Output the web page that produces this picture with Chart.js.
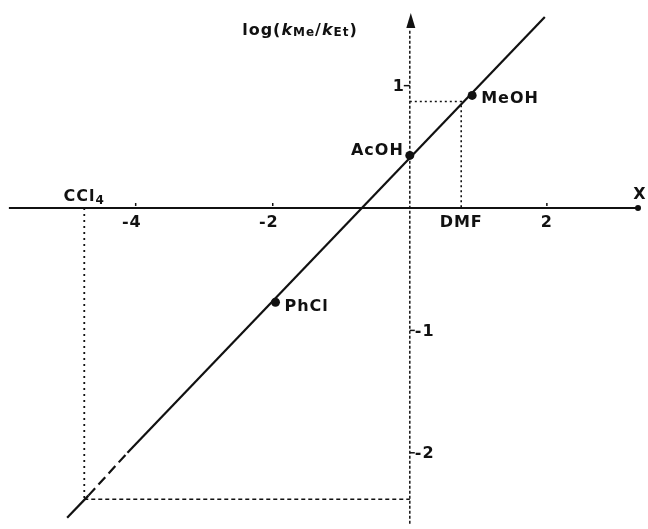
<!DOCTYPE html>
<html>
<head>
<meta charset="utf-8">
<script src="https://cdn.jsdelivr.net/npm/chart.js@4.4.1/dist/chart.umd.min.js"></script>
<style>
  html, body { margin: 0; padding: 0; background: #fff; }
  #wrap { width: 648px; height: 529px; position: relative; }
</style>
</head>
<body>
<div id="wrap"><canvas id="plot"></canvas></div>
<script>
// Solvents: log(kMe/kEt) against the solvent parameter X
const solvents = ['AcOH', 'MeOH', 'PhCl', 'DMF', 'CCl4'];
const solventX = [0, 0.91, -1.96, 0.75, -4.75];
const solventY = [0.43, 0.92, -0.77, 0.87, -2.38];
const marked   = [true, true, true, false, false];

// correlation line (the short stretch near the bottom is broken)
const fitX = [-5.0, -4.69, -4.12, 1.97];
const fitY = [-2.53, -2.35, -2.0, 1.56];

const xTicks = [-4, -2, 2];
const yTicks = [1, -1, -2];

const INK  = '#111';
const FONT = '"DejaVu Sans", sans-serif';

const pts = (xs, ys) => xs.map((v, i) => ({ x: v, y: ys[i] }));
const idx = name => solvents.indexOf(name);

const dots = solvents
  .map((s, i) => ({ x: solventX[i], y: solventY[i], s }))
  .filter((p, i) => marked[i]);

// dotted drop lines for the unmarked solvents
const dmf  = idx('DMF');
const ccl4 = idx('CCl4');
const dmfGuide = [
  { x: 0, y: solventY[dmf] },
  { x: solventX[dmf], y: solventY[dmf] },
  { x: solventX[dmf], y: 0 }
];
const cclDown = [{ x: solventX[ccl4], y: 0 }, { x: solventX[ccl4], y: solventY[ccl4] }];
const cclAcross = [{ x: solventX[ccl4], y: solventY[ccl4] }, { x: 0, y: solventY[ccl4] }];

const lineSet = (data, extra) => Object.assign({
  data, showLine: true, pointRadius: 0, borderColor: INK,
  borderWidth: 1.6, fill: false, tension: 0
}, extra);

// text made of runs so subscripts and italics can sit inline
function drawRuns(ctx, runs, x, y, align) {
  let w = 0;
  runs.forEach(r => { ctx.font = r.font; w += ctx.measureText(r.t).width; });
  let cx = align === 'center' ? x - w / 2 : align === 'right' ? x - w : x;
  ctx.textAlign = 'left';
  runs.forEach(r => {
    ctx.font = r.font;
    ctx.fillText(r.t, cx, y + (r.dy || 0));
    cx += ctx.measureText(r.t).width;
  });
}

const annotate = {
  id: 'annotate',
  afterDatasetsDraw(chart) {
    const { ctx, scales: { x, y } } = chart;
    const X = v => x.getPixelForValue(v);
    const Y = v => y.getPixelForValue(v);
    const big = 'bold 16px ' + FONT;
    const sub = 'bold 12px ' + FONT;
    const ital = 'italic bold 16px ' + FONT;
    const y0 = Y(0), x0 = X(0);

    ctx.save();
    ctx.fillStyle = INK;
    ctx.strokeStyle = INK;
    ctx.textBaseline = 'middle';
    ctx.letterSpacing = '1px';

    // arrow head of the vertical axis
    ctx.beginPath();
    ctx.moveTo(x0 + 1, 13);
    ctx.lineTo(x0 - 3.5, 28);
    ctx.lineTo(x0 + 5.5, 28);
    ctx.closePath();
    ctx.fill();

    // end dot of the X axis
    ctx.beginPath();
    ctx.arc(X(3.33), y0, 3, 0, Math.PI * 2);
    ctx.fill();

    // x ticks and labels
    ctx.lineWidth = 1.5;
    xTicks.forEach(t => {
      ctx.beginPath();
      ctx.moveTo(X(t), y0 - 5);
      ctx.lineTo(X(t), y0 - 2);
      ctx.stroke();
      ctx.font = big;
      ctx.textAlign = 'right';
      ctx.fillText(String(t), X(t) + 6, y0 + 15);
    });

    // y ticks and labels
    yTicks.forEach(t => {
      ctx.beginPath();
      if (t > 0) {
        ctx.moveTo(x0 - 6, Y(t)); ctx.lineTo(x0, Y(t));
        ctx.stroke();
        ctx.font = big; ctx.textAlign = 'right';
        ctx.fillText(String(t), x0 - 5, Y(t) + 1);
      } else {
        ctx.moveTo(x0, Y(t)); ctx.lineTo(x0 + 5, Y(t));
        ctx.stroke();
        ctx.font = big; ctx.textAlign = 'left';
        ctx.fillText(String(t), x0 + 5, Y(t) + 1);
      }
    });

    // axis titles
    ctx.font = big; ctx.textAlign = 'center';
    ctx.fillText('X', 640, y0 - 13);
    drawRuns(ctx, [
      { t: 'log(', font: big },
      { t: 'k', font: ital },
      { t: 'Me', font: sub, dy: 2 },
      { t: '/', font: big },
      { t: 'k', font: ital },
      { t: 'Et', font: sub, dy: 2 },
      { t: ')', font: big }
    ], 300, 31, 'center');

    // solvent names
    ctx.font = big;
    ctx.textAlign = 'right';
    ctx.fillText('AcOH', X(solventX[idx('AcOH')]) - 6, Y(solventY[idx('AcOH')]) - 5);
    ctx.textAlign = 'left';
    ctx.fillText('MeOH', X(solventX[idx('MeOH')]) + 9, Y(solventY[idx('MeOH')]) + 3);
    ctx.fillText('PhCl', X(solventX[idx('PhCl')]) + 9, Y(solventY[idx('PhCl')]) + 5);
    ctx.textAlign = 'center';
    ctx.fillText('DMF', X(solventX[dmf]), y0 + 15);
    drawRuns(ctx, [
      { t: 'CCl', font: big },
      { t: '4', font: sub, dy: 4 }
    ], X(solventX[ccl4]), y0 - 11, 'center');

    ctx.restore();
  }
};

new Chart(document.getElementById('plot'), {
  type: 'scatter',
  data: {
    datasets: [
      {
        data: dots, pointRadius: 4.5, pointHoverRadius: 4.5,
        backgroundColor: INK, borderColor: INK, pointBorderWidth: 0
      },
      lineSet(pts(fitX, fitY), {
        borderWidth: 2.2,
        segment: { borderDash: c => c.p0DataIndex === 1 ? [10, 5] : undefined }
      }),
      lineSet(dmfGuide, { borderDash: [2, 3], borderWidth: 1.6 }),
      lineSet(cclDown, { borderDash: [2, 4], borderWidth: 1.8 }),
      lineSet(cclAcross, { borderDash: [4, 3], borderWidth: 1.4 }),
      // vertical axis, dashed, and the solid X axis
      lineSet([{ x: 0, y: -2.62 }, { x: 0, y: 1.45 }], { borderDash: [3, 2], borderWidth: 1.5 }),
      lineSet([{ x: -5.85, y: 0 }, { x: 3.33, y: 0 }], { borderWidth: 1.8 })
    ]
  },
  options: {
    responsive: true,
    maintainAspectRatio: false,
    animation: false,
    layout: { padding: 0 },
    plugins: { legend: { display: false }, tooltip: { enabled: false } },
    scales: {
      x: { type: 'linear', display: false, min: -5.914, max: 3.41 },
      y: { type: 'linear', display: false, min: -2.586, max: 1.663 }
    }
  },
  plugins: [annotate]
});
</script>
</body>
</html>
